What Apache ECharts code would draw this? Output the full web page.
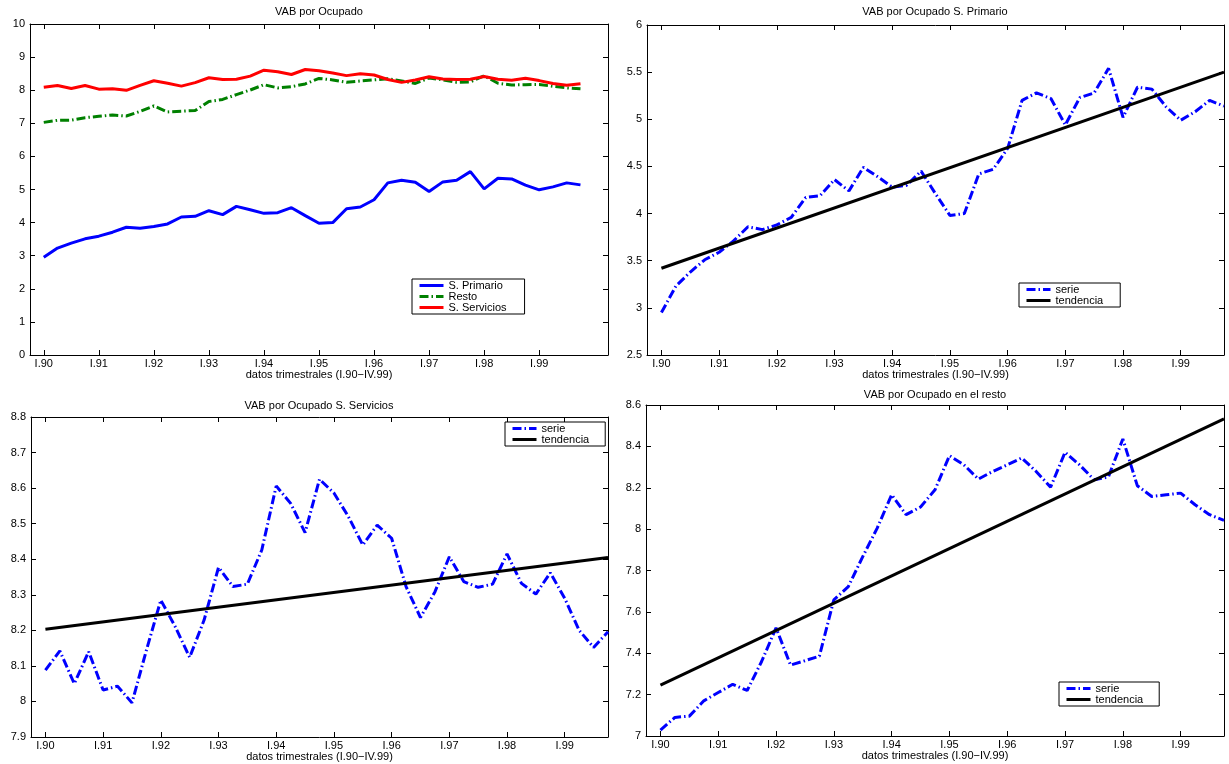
<!doctype html>
<html>
<head>
<meta charset="utf-8">
<title>VAB por Ocupado</title>
<script src="https://cdn.jsdelivr.net/npm/echarts@6/dist/echarts.min.js"></script>
</head>
<body style="margin:0;background:#fff;">
<div id="container" style="width:1229px;height:764px;"></div>
<script type="text/javascript">
// trimestres: 1 = I.90 ... 40 = IV.99
var tickQuarters = [1, 5, 9, 13, 17, 21, 25, 29, 33, 37];
var tickLabels = ['I.90', 'I.91', 'I.92', 'I.93', 'I.94', 'I.95', 'I.96', 'I.97', 'I.98', 'I.99'];

// VAB por ocupado, series trimestrales
var primario = [2.95, 3.23, 3.38, 3.51, 3.59, 3.71, 3.86, 3.83, 3.88, 3.96,
    4.17, 4.19, 4.36, 4.24, 4.49, 4.39, 4.28, 4.30, 4.45, 4.21,
    3.98, 4.00, 4.42, 4.47, 4.69, 5.20, 5.28, 5.22, 4.94, 5.23,
    5.28, 5.54, 5.02, 5.34, 5.32, 5.13, 4.99, 5.08, 5.20, 5.14];
var servicios = [8.088, 8.142, 8.05, 8.14, 8.032, 8.043, 7.996, 8.144, 8.285, 8.21,
    8.124, 8.229, 8.377, 8.323, 8.33, 8.426, 8.606, 8.557, 8.475, 8.625,
    8.586, 8.52, 8.44, 8.496, 8.459, 8.323, 8.236, 8.308, 8.407, 8.337,
    8.321, 8.33, 8.415, 8.332, 8.302, 8.362, 8.29, 8.2, 8.152, 8.196];
var resto = [7.028, 7.09, 7.096, 7.17, 7.21, 7.25, 7.22, 7.36, 7.523, 7.343,
    7.364, 7.386, 7.658, 7.722, 7.867, 8.005, 8.166, 8.07, 8.107, 8.19,
    8.355, 8.311, 8.242, 8.279, 8.311, 8.344, 8.279, 8.203, 8.371, 8.311,
    8.239, 8.252, 8.436, 8.21, 8.158, 8.166, 8.174, 8.118, 8.07, 8.042];

// tendencias lineales (primer y ultimo trimestre)
var trendQuarters = [1, 40];
var trendPrimario = [3.42, 5.50];
var trendServicios = [8.203, 8.405];
var trendResto = [7.246, 8.533];

var FONT = '"Liberation Sans", Arial, Helvetica, sans-serif';
var dashDot = [9, 3, 1.5, 3];

function pairs(xs, ys) {
    return ys.map(function(v, i) { return [xs ? xs[i] : i + 1, v]; });
}

function xAxes(grid, max) {
    var base = {
        type: 'value', gridIndex: grid, min: 0, max: max,
        splitLine: {show: false},
        axisLine: {onZero: false, lineStyle: {color: '#000', width: 1}},
        axisTick: {inside: true, length: 5, customValues: tickQuarters, lineStyle: {color: '#000'}}
    };
    var bottom = echarts.util.merge({
        position: 'bottom',
        name: 'datos trimestrales (I.90\u2212IV.99)',
        nameLocation: 'middle',
        nameGap: grid < 2 ? 14 : 13,
        nameTextStyle: {color: '#000', fontSize: 11, fontFamily: FONT},
        axisLabel: {
            customValues: tickQuarters, margin: 3, color: '#000', fontSize: 11, fontFamily: FONT,
            formatter: function(v) { return tickLabels[tickQuarters.indexOf(v)]; }
        }
    }, base, true);
    var top = echarts.util.merge({position: 'top', axisLabel: {show: false}}, base, true);
    return [bottom, top];
}

function yAxes(grid, min, max, step) {
    var base = {
        type: 'value', gridIndex: grid, min: min, max: max, interval: step,
        splitLine: {show: false},
        axisLine: {show: true, onZero: false, lineStyle: {color: '#000', width: 1}},
        axisTick: {show: true, inside: true, length: 5, lineStyle: {color: '#000'}}
    };
    var left = echarts.util.merge({
        position: 'left',
        axisLabel: {margin: 5, color: '#000', fontSize: 11, fontFamily: FONT}
    }, base, true);
    var right = echarts.util.merge({position: 'right', axisLabel: {show: false}}, base, true);
    return [left, right];
}

function lineSeries(name, grid, data, color, type) {
    return {
        name: name, type: 'line', xAxisIndex: grid * 2, yAxisIndex: grid * 2,
        data: data, symbol: 'none', animation: false, silent: true,
        lineStyle: {color: color, width: 3, type: type},
        itemStyle: {color: color}
    };
}

function titleAt(text, x, y) {
    return {
        text: text, left: x, top: y, textAlign: 'center', padding: 0,
        textStyle: {color: '#000', fontSize: 11, fontWeight: 'normal', fontFamily: FONT}
    };
}

// leyenda con recuadro, solo la muestra de linea (sin simbolo)
function legendAt(names, x, y, padRight) {
    return {
        data: names, left: x, top: y, orient: 'vertical', selectedMode: false,
        backgroundColor: '#fff', borderColor: '#000', borderWidth: 1, borderRadius: 0,
        padding: [1, padRight, 1, 6], itemGap: 0, itemWidth: 24, itemHeight: 11,
        itemStyle: {opacity: 0},
        lineStyle: {width: 3},
        textStyle: {color: '#000', fontSize: 11, fontFamily: FONT, lineHeight: 11}
    };
}

var option = {
    backgroundColor: '#fff',
    animation: false,
    title: [
        titleAt('VAB por Ocupado', 319, 6),
        titleAt('VAB por Ocupado S. Primario', 935, 6),
        titleAt('VAB por Ocupado S. Servicios', 319, 400),
        titleAt('VAB por Ocupado en el resto', 935, 389)
    ],
    legend: [
        legendAt(['S. Primario', 'Resto', 'S. Servicios'], 412, 279, 18),
        legendAt(['serie', 'tendencia'], 1019, 283, 17),
        legendAt(['serie', 'tendencia'], 505, 422, 16),
        legendAt(['serie', 'tendencia'], 1059, 682, 16)
    ],
    grid: [
        {left: 30, top: 24, width: 578, height: 331},
        {left: 647, top: 25, width: 577, height: 330},
        {left: 31, top: 417, width: 577, height: 320},
        {left: 646, top: 405, width: 578, height: 331}
    ],
    xAxis: [].concat(xAxes(0, 42), xAxes(1, 40), xAxes(2, 40), xAxes(3, 40)),
    yAxis: [].concat(
        yAxes(0, 0, 10, 1),
        yAxes(1, 2.5, 6, 0.5),
        yAxes(2, 7.9, 8.8, 0.1),
        yAxes(3, 7, 8.6, 0.2)
    ),
    series: [
        lineSeries('S. Primario', 0, pairs(null, primario), '#0000ff', 'solid'),
        lineSeries('Resto', 0, pairs(null, resto), '#008000', dashDot),
        lineSeries('S. Servicios', 0, pairs(null, servicios), '#ff0000', 'solid'),

        lineSeries('serie', 1, pairs(null, primario), '#0000ff', dashDot),
        lineSeries('tendencia', 1, pairs(trendQuarters, trendPrimario), '#000000', 'solid'),

        lineSeries('serie', 2, pairs(null, servicios), '#0000ff', dashDot),
        lineSeries('tendencia', 2, pairs(trendQuarters, trendServicios), '#000000', 'solid'),

        lineSeries('serie', 3, pairs(null, resto), '#0000ff', dashDot),
        lineSeries('tendencia', 3, pairs(trendQuarters, trendResto), '#000000', 'solid')
    ]
};

var myChart = echarts.init(document.getElementById('container'));
myChart.setOption(option);
</script>
</body>
</html>
